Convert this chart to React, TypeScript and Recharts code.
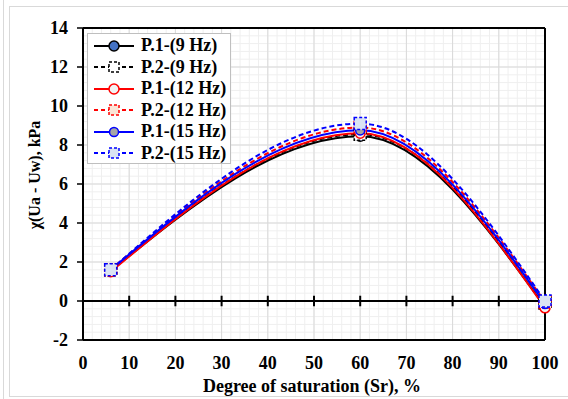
import React from 'react';
import {
  LineChart, Line, XAxis, YAxis, CartesianGrid, ReferenceLine, Legend,
} from 'recharts';

// Degree of saturation (Sr), %
const sr = [6, 60, 100];

// χ(Ua - Uw), kPa
const p1_9 = [1.55, 8.45, -0.3];
const p2_9 = [1.6, 8.55, -0.1];
const p1_12 = [1.5, 8.6, -0.35];
const p2_12 = [1.6, 8.9, -0.05];
const p1_15 = [1.6, 8.75, -0.15];
const p2_15 = [1.6, 9.1, 0];

const xTicks = [0, 10, 20, 30, 40, 50, 60, 70, 80, 90, 100];
const yTicks = [-2, 0, 2, 4, 6, 8, 10, 12, 14];
const zeroTicks = [10, 20, 30, 40, 50, 60, 70, 80, 90];

const minorX = Array.from({ length: 51 }, (_, i) => i * 2);
const minorY = Array.from({ length: 41 }, (_, i) => -2 + i * 0.4);

const FONT = 'Liberation Serif, Times New Roman, serif';

const series = [
  { key: 'p1_9', name: 'P.1-(9 Hz)', color: '#000000', dashed: false, shape: 'circle', fill: '#4472c4', r: 5 },
  { key: 'p2_9', name: 'P.2-(9 Hz)', color: '#000000', dashed: true, shape: 'square', fill: '#ffffff', r: 6 },
  { key: 'p1_12', name: 'P.1-(12 Hz)', color: '#ff0000', dashed: false, shape: 'circle', fill: '#f2f2f2', r: 5 },
  { key: 'p2_12', name: 'P.2-(12 Hz)', color: '#ff0000', dashed: true, shape: 'square', fill: '#fbe5d6', r: 6 },
  { key: 'p1_15', name: 'P.1-(15 Hz)', color: '#0000ff', dashed: false, shape: 'circle', fill: '#a6a6a6', r: 4.5 },
  { key: 'p2_15', name: 'P.2-(15 Hz)', color: '#0000ff', dashed: true, shape: 'square', fill: '#dae3f3', r: 6 },
];

const data = sr.map((s, i) => ({
  sr: s,
  p1_9: p1_9[i],
  p2_9: p2_9[i],
  p1_12: p1_12[i],
  p2_12: p2_12[i],
  p1_15: p1_15[i],
  p2_15: p2_15[i],
}));

type S = (typeof series)[number];

const Marker = ({ s, cx, cy }: { s: S; cx: number; cy: number }) => {
  if (s.shape === 'circle') {
    return <circle cx={cx} cy={cy} r={s.r} fill={s.fill} stroke={s.color} strokeWidth={1.5} />;
  }
  return (
    <rect
      x={cx - s.r}
      y={cy - s.r}
      width={s.r * 2}
      height={s.r * 2}
      fill={s.fill}
      stroke={s.color}
      strokeWidth={1.5}
      strokeDasharray="3 2"
    />
  );
};

const renderLegend = () => (
  <div
    style={{
      width: 144,
      height: 131,
      background: '#fff',
      border: '1px solid #bfbfbf',
      paddingTop: 1,
      boxSizing: 'border-box',
    }}
  >
    {series.map((s) => (
      <div key={s.key} style={{ display: 'flex', alignItems: 'center', height: 21.5 }}>
        <svg width={52} height={16} style={{ flex: 'none' }}>
          <line
            x1={6}
            x2={46}
            y1={8}
            y2={8}
            stroke={s.color}
            strokeWidth={2}
            strokeDasharray={s.dashed ? '4 3' : undefined}
          />
          <Marker s={{ ...s, r: s.shape === 'square' ? 5 : s.r }} cx={26} cy={8} />
        </svg>
        <span
          style={{
            fontFamily: FONT,
            fontWeight: 'bold',
            fontSize: 18,
            color: '#000',
            whiteSpace: 'nowrap',
            marginLeft: 1,
          }}
        >
          {s.name}
        </span>
      </div>
    ))}
  </div>
);

const XTick = (props: any) => {
  const { x, y, payload } = props;
  return (
    <text x={x} y={y + 21} textAnchor="middle" style={{ fontFamily: FONT, fontWeight: 'bold', fontSize: 18 }} fill="#000">
      {payload.value}
    </text>
  );
};

const YTick = (props: any) => {
  const { x, y, payload } = props;
  return (
    <text x={x} y={y + 6} textAnchor="end" style={{ fontFamily: FONT, fontWeight: 'bold', fontSize: 18 }} fill="#000">
      {payload.value}
    </text>
  );
};

const App: React.FC = () => {
  return (
    <div style={{ position: 'absolute', left: 0, top: 0, width: 568, height: 399, overflow: 'hidden', background: '#fff' }}>
      <div style={{ position: 'absolute', left: 3, top: 0, width: 1, height: 399, background: '#d9d9d9' }} />
      <div
        style={{
          position: 'absolute',
          left: 9,
          top: 6,
          width: 600,
          height: 389,
          border: '1px solid #d9d9d9',
        }}
      />
      <div style={{ position: 'absolute', left: 0, top: 0 }}>
        <LineChart width={568} height={399} data={data} margin={{ top: 28, right: 23, left: 0, bottom: 0 }}>
          <CartesianGrid
            stroke="#efefef"
            strokeWidth={1}
            horizontalValues={minorY}
            verticalValues={minorX}
          />
          <CartesianGrid
            stroke="#d9d9d9"
            strokeWidth={1}
            horizontalValues={yTicks}
            verticalValues={xTicks}
          />
          <XAxis
            dataKey="sr"
            type="number"
            domain={[0, 100]}
            ticks={xTicks}
            axisLine={false}
            tickLine={false}
            tickSize={6}
            tick={<XTick />}
            height={59}
            interval={0}
            label={{
              content: () => (
                <text x={312} y={392} textAnchor="middle" style={{ fontFamily: FONT, fontWeight: 'bold', fontSize: 18 }} fill="#000">
                  Degree of saturation (Sr), %
                </text>
              ),
            }}
          />
          <YAxis
            type="number"
            domain={[-2, 14]}
            ticks={yTicks}
            width={83}
            interval={0}
            axisLine={{ stroke: '#000', strokeWidth: 2 }}
            tickLine={{ stroke: '#000', strokeWidth: 1.5 }}
            tickSize={6}
            tickMargin={9}
            tick={<YTick />}
            label={{
              content: () => {
                const cx = 40;
                const cy = 175;
                return (
                  <text
                    x={cx}
                    y={cy}
                    transform={`rotate(-90 ${cx} ${cy})`}
                    textAnchor="middle"
                    style={{ fontFamily: FONT, fontWeight: 'bold', fontSize: 16 }}
                    fill="#000"
                  >
                    χ(Ua - Uw), kPa
                  </text>
                );
              },
            }}
          />
          <ReferenceLine y={14} stroke="#000" strokeWidth={2} />
          <ReferenceLine y={-2} stroke="#000" strokeWidth={2} />
          <ReferenceLine x={100} stroke="#000" strokeWidth={2} />
          <ReferenceLine y={0} stroke="#000" strokeWidth={2} />
          {zeroTicks.map((t) => (
            <ReferenceLine
              key={t}
              segment={[{ x: t, y: -0.27 }, { x: t, y: 0.27 }]}
              stroke="#000"
              strokeWidth={2}
            />
          ))}
          {series.map((s) => (
            <Line
              key={s.key}
              dataKey={s.key}
              name={s.name}
              type="monotone"
              stroke={s.color}
              strokeWidth={2}
              strokeDasharray={s.dashed ? '5 3' : undefined}
              isAnimationActive={false}
              dot={(p: any) => <Marker key={`${s.key}-${p.index}`} s={s} cx={p.cx} cy={p.cy} />}
              activeDot={false}
            />
          ))}
          <Legend
            layout="vertical"
            align="center"
            verticalAlign="middle"
            content={renderLegend}
            wrapperStyle={{ left: 87, top: 33, width: 144, height: 131 }}
          />
        </LineChart>
      </div>
    </div>
  );
};

export default App;
